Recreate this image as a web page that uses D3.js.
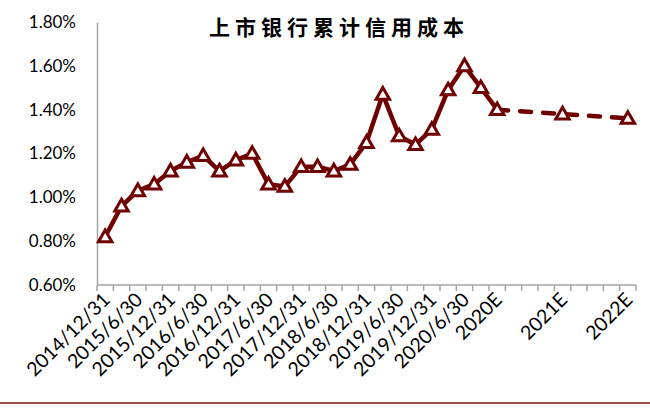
<!DOCTYPE html>
<html>
<head>
<meta charset="utf-8">
<script src="https://cdn.jsdelivr.net/npm/d3@7"></script>
<style>
  body { margin: 0; background: #fff; }
  svg { display: block; }
</style>
</head>
<body>
<script>
// categories (quarter ends, then forecast years); blanks fill the forecast gaps
const categories = [
  "2014/12/31", "2015/3/31", "2015/6/30", "2015/9/30", "2015/12/31",
  "2016/3/31", "2016/6/30", "2016/9/30", "2016/12/31",
  "2017/3/31", "2017/6/30", "2017/9/30", "2017/12/31",
  "2018/3/31", "2018/6/30", "2018/9/30", "2018/12/31",
  "2019/3/31", "2019/6/30", "2019/9/30", "2019/12/31",
  "2020/3/31", "2020/6/30", "2020/9/30", "2020E",
  "", "", "", "2021E", "", "", "", "2022E"
];
// only every other label is shown on the axis
const shownLabels = categories.map((c, i) => (i % 2 === 0 ? c : ""));

const actual = [0.82, 0.96, 1.03, 1.06, 1.12, 1.16, 1.19, 1.12, 1.17, 1.20,
  1.06, 1.05, 1.14, 1.14, 1.12, 1.15, 1.25, 1.47, 1.28, 1.24, 1.31, 1.49,
  1.60, 1.50, 1.40];
const forecastCats = ["2020E", "2021E", "2022E"];
const forecast = [1.40, 1.38, 1.36];
const yTicks = [0.6, 0.8, 1.0, 1.2, 1.4, 1.6, 1.8];

const width = 650, height = 408;
const color = "#700000";

const svg = d3.select("body").append("svg")
    .attr("width", width)
    .attr("height", height);

const x = d3.scaleBand()
    .domain(d3.range(categories.length))
    .range([97, 636]);
const y = d3.scaleLinear()
    .domain([0.6, 1.8])
    .range([285, 22]);
const cx = i => x(i) + x.bandwidth() / 2;

// title
svg.append("text")
    .attr("x", 339)
    .attr("y", 35)
    .attr("text-anchor", "middle")
    .attr("font-family", "Noto Sans CJK SC")
    .attr("font-weight", "bold")
    .attr("font-size", 21)
    .attr("letter-spacing", 5)
    .text("上市银行累计信用成本");

// y axis: line + labels, no ticks
const yAxis = svg.append("g")
    .attr("transform", "translate(97,0)")
    .call(d3.axisLeft(y).tickValues(yTicks).tickSize(0).tickPadding(21)
        .tickFormat(d => d.toFixed(2) + "%"));
yAxis.select(".domain").attr("stroke", "#a6a6a6").attr("stroke-width", 1.5);
yAxis.selectAll("text")
    .attr("font-family", "Lato")
    .attr("font-size", 17)
    .attr("fill", "#000");

// x axis: ticks between categories
const xAxis = svg.append("g").attr("transform", "translate(0,285)");
xAxis.append("line")
    .attr("x1", 97).attr("x2", 636)
    .attr("stroke", "#a6a6a6").attr("stroke-width", 1.5);
xAxis.selectAll(".tick")
    .data(d3.range(categories.length + 1))
    .join("line")
    .attr("x1", i => i < categories.length ? x(i) : x.range()[1])
    .attr("x2", i => i < categories.length ? x(i) : x.range()[1])
    .attr("y1", 0).attr("y2", 6)
    .attr("stroke", "#a6a6a6").attr("stroke-width", 1.5);
xAxis.selectAll(".lab")
    .data(shownLabels.map((l, i) => ({ l, i })).filter(d => d.l))
    .join("text")
    .attr("transform", d => `translate(${cx(d.i) + 6},${16}) rotate(-45)`)
    .attr("text-anchor", "end")
    .attr("font-family", "Lato")
    .attr("font-size", 19.5)
    .attr("fill", "#000")
    .text(d => d.l);

// lines
const line = d3.line()
    .x(d => cx(d.i))
    .y(d => y(d.v));

const actualPts = actual.map((v, i) => ({ i, v }));
const forecastPts = forecast.map((v, k) => ({ i: categories.indexOf(forecastCats[k]), v }));

svg.append("path")
    .datum(forecastPts)
    .attr("d", line)
    .attr("fill", "none")
    .attr("stroke", color)
    .attr("stroke-width", 4.5)
    .attr("stroke-linecap", "round")
    .attr("stroke-dasharray", "11,12");

svg.append("path")
    .datum(actualPts)
    .attr("d", line)
    .attr("fill", "none")
    .attr("stroke", color)
    .attr("stroke-width", 4.5)
    .attr("stroke-linejoin", "round");

// triangle markers
const tri = d3.symbol().type(d3.symbolTriangle).size(78);
svg.selectAll(".marker")
    .data(actualPts.concat(forecastPts.slice(1)))
    .join("path")
    .attr("transform", d => `translate(${cx(d.i)},${y(d.v) + 1})`)
    .attr("d", tri)
    .attr("fill", "#fff")
    .attr("stroke", color)
    .attr("stroke-width", 3)
    .attr("stroke-linejoin", "miter");

// bottom rule
svg.append("line")
    .attr("x1", 0).attr("x2", width)
    .attr("y1", 403).attr("y2", 403)
    .attr("stroke", "#7a1010").attr("stroke-width", 1.5);
</script>
</body>
</html>
